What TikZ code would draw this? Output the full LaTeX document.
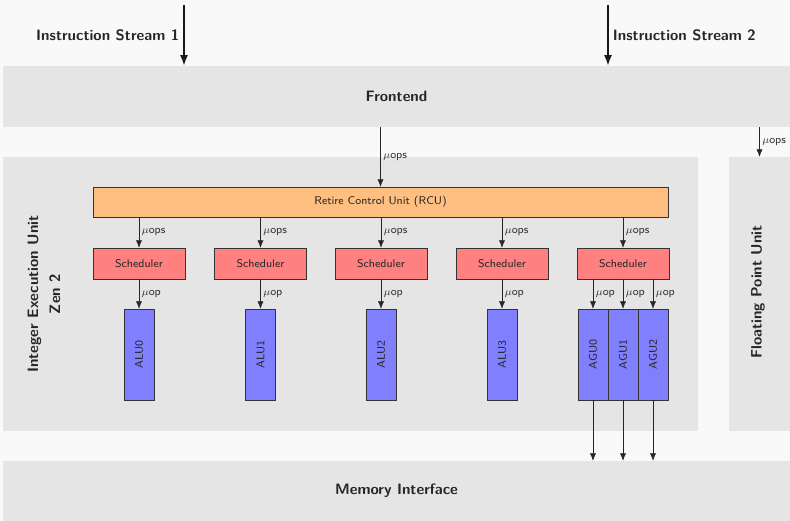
\documentclass[tikz,border=0pt]{standalone}
\usetikzlibrary{arrows.meta}
\definecolor{bgcol}{gray}{0.975}
\definecolor{unitcol}{gray}{0.9}
\tikzset{
  unit/.style={fill=unitcol, inner sep=0pt, text=black!85, font=\fontsize{11.3}{13.5}\selectfont\sffamily\bfseries},
  block/.style={draw=black!80, inner sep=0pt, text=black!85, font=\fontsize{8.4}{10}\selectfont\sffamily},
  rcubox/.style={block, fill=orange!50, minimum width=431.25pt, minimum height=22.5pt},
  schedbox/.style={block, fill=red!50, minimum width=69pt, minimum height=23.25pt},
  exebox/.style={block, fill=blue!50, minimum width=22.5pt, minimum height=68.25pt},
  bigarrow/.style={-{Latex[length=8pt,width=6pt]}, line width=1.3pt, black!90},
  flow/.style={-{Latex[length=5.5pt,width=4.5pt]}, black!85},
  lbl/.style={font=\fontsize{8.4}{10}\selectfont\sffamily, text=black!80, inner sep=2pt}
}
\begin{document}
\begin{tikzpicture}[x=0.75pt, y=-0.75pt]
  \fill[bgcol] (0,0) rectangle (790,521);
  \useasboundingbox (0,0) rectangle (790,521);

  % units
  \node[unit, minimum width=590.25pt, minimum height=45.75pt] (front) at (396.5,96.5) {Frontend};
  \node[unit, minimum width=521.25pt, minimum height=205.5pt] (int) at (350.5,294) {};
  \node[unit, minimum width=45.75pt, minimum height=205.5pt] (fpu) at (759.5,294) {};
  \node[unit, minimum width=590.25pt, minimum height=45pt] (mem) at (396.5,491) {Memory Interface};
  \node[unit, rotate=90, align=center, fill=none] (intlbl) at (44,294) {Integer Execution Unit\\[3pt]Zen 2};
  \node[unit, rotate=90, fill=none] (fpulbl) at (758,292) {Floating Point Unit};

  % instruction streams
  \coordinate (is1) at (184,5);
  \coordinate (is2) at (608,5);
  \draw[bigarrow] (is1) -- (is1 |- front.north) node[midway, left, unit, fill=none, inner sep=3pt] {Instruction Stream 1};
  \draw[bigarrow] (is2) -- (is2 |- front.north) node[midway, right, unit, fill=none, inner sep=3pt] {Instruction Stream 2};

  % integer core
  \node[rcubox] (rcu) at (380.5,202) {Retire Control Unit (RCU)};
  \foreach \x [count=\i from 0] in {139,260.5,381,502,623} {
    \node[schedbox] (sch\i) at (\x,263.5) {Scheduler};
    \draw[flow] (rcu.south -| sch\i.north) -- (sch\i.north) node[midway, right, lbl] {$\mu$ops};
  }
  \foreach \x [count=\i from 0] in {139,260.5,381,502} {
    \node[exebox] (alu\i) at (\x,354.5) {\rotatebox{90}{ALU\i}};
    \draw[flow] (sch\i.south -| alu\i.north) -- (alu\i.north) node[midway, right, lbl] {$\mu$op};
  }
  \foreach \x [count=\i from 0] in {593,623,653} {
    \node[exebox] (agu\i) at (\x,354.5) {\rotatebox{90}{AGU\i}};
    \draw[flow] (sch4.south -| agu\i.north) -- (agu\i.north) node[midway, right, lbl] {$\mu$op};
    \draw[flow] (agu\i.south) -- (agu\i.south |- mem.north);
  }

  % front end to units
  \draw[flow] (front.south -| rcu.north) -- (rcu.north) node[midway, right, lbl] {$\mu$ops};
  \draw[flow] (front.south -| fpu.north) -- (fpu.north) node[midway, right, lbl] {$\mu$ops};
\end{tikzpicture}
\end{document}
